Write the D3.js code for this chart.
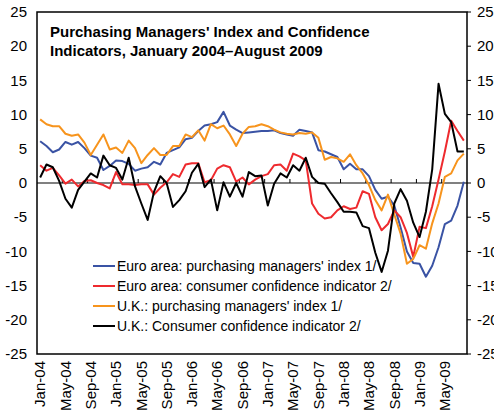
<!DOCTYPE html>
<html>
<head>
<meta charset="utf-8">
<script src="https://cdn.jsdelivr.net/npm/d3@7"></script>
<style>
    body { margin: 0; background: #fff; }
    svg { font-family: "Liberation Sans", Arial, sans-serif; }
</style>
</head>
<body>
<svg id="chart"></svg>
<script>
let months = ["Jan", "Feb", "Mar", "Apr", "May", "Jun", "Jul", "Aug", "Sep", "Oct", "Nov", "Dec"]
let years = ["04", "05", "06", "07", "08", "09"]
let dates = []
years.forEach((y) => {
    months.forEach((m) => {
        dates.push(m + "-" + y)
    })
})
dates = dates.slice(0, 68)   // Jan-04 .. Aug-09

let euroPMI = [6.1, 5.4, 4.5, 4.9, 6.0, 5.6, 6.0, 5.1, 4.0, 3.7, 1.9, 2.5,
               3.3, 3.2, 2.8, 1.8, 2.1, 2.3, 3.1, 2.7, 4.4, 4.8, 5.2, 6.4,
               6.6, 7.6, 8.4, 8.6, 8.9, 10.4, 8.4, 7.8, 7.3, 7.4, 7.5, 7.6,
               7.6, 7.7, 7.3, 7.1, 6.9, 7.8, 7.6, 7.4, 4.8, 4.6, 4.2, 3.8,
               2.0, 2.8, 2.0, 2.0, 1.0, -1.0, -2.3, -2.0, -3.3, -6.5, -10.0, -11.7,
               -11.8, -13.7, -12.1, -9.4, -6.0, -5.5, -3.3, 0.2]

let euroConsumer = [2.6, 1.8, 2.2, 1.1, -0.1, 0.5, -0.5, 0.3, 0.4, 0.0, -0.3, -0.8,
                    1.6, -0.2, -0.2, -0.3, -0.2, -0.2, -1.7, -0.7, 0.1, 1.3, 0.9, 2.7,
                    2.9, 2.9, 0.1, 0.4, 2.1, 2.6, 2.3, 0.2, 0.8, -0.2, 0.5, 1.0,
                    1.3, 2.6, 2.7, 1.8, 4.3, 3.9, 3.3, -3.0, -4.5, -5.2, -5.0, -4.0,
                    -3.4, -3.8, -3.6, -1.2, -1.6, -5.0, -6.9, -6.0, -4.0, -5.0, -7.3, -10.8,
                    -6.4, -6.6, -3.4, 0.5, 4.6, 9.1, 7.6, 6.2]

let ukPMI = [9.3, 8.6, 8.3, 8.3, 7.2, 6.9, 7.1, 5.9, 4.1, 5.6, 7.1, 4.9,
             5.2, 4.4, 6.2, 5.1, 2.9, 4.1, 5.1, 4.1, 4.1, 5.4, 5.4, 7.1,
             6.7, 7.7, 6.2, 8.6, 8.0, 8.4, 7.1, 5.4, 7.2, 8.2, 8.3, 8.6,
             8.3, 7.8, 7.4, 7.2, 7.1, 7.3, 7.2, 7.4, 6.6, 3.4, 3.8, 3.6,
             3.1, 4.2, 2.6, 1.4, -0.3, -2.5, -4.0, -1.7, -4.6, -7.4, -11.8, -11.1,
             -9.1, -9.6, -5.9, -3.0, 0.9, 1.4, 3.3, 4.3]

let ukConsumer = [0.8, 2.7, 2.3, 0.3, -2.3, -3.6, -1.0, 0.2, 1.4, 0.8, 4.0, 2.6,
                  2.2, 0.5, 3.7, -0.5, -3.0, -5.4, -1.3, 1.0, 0.0, -3.5, -2.5, -1.2,
                  1.5, 2.8, -0.6, 0.5, -4.0, 0.1, -2.0, 0.0, -2.0, 1.6, 1.0, 1.1,
                  -3.3, -0.1, 1.4, 0.8, 2.6, 1.8, 3.7, 0.9, 0.0, -0.1, -1.5, -2.8,
                  -4.2, -4.2, -4.3, -6.3, -6.6, -10.2, -13.0, -9.9, -3.0, -0.9, -2.6, -5.8,
                  -7.9, -4.2, 2.0, 14.5, 10.1, 8.9, 4.6, 4.6]

let seriesNames = ["Euro area: purchasing managers' index 1/",
                   "Euro area: consumer confidence indicator 2/",
                   "U.K.: purchasing managers' index 1/",
                   "U.K.: Consumer confidence indicator 2/"]
let seriesColors = ["#3a53a4", "#ee2a2e", "#f7941d", "#000000"]
let yTicks = [25, 20, 15, 10, 5, 0, -5, -10, -15, -20, -25]
let titleLines = ["Purchasing Managers' Index and Confidence",
                  "Indicators, January 2004\u2013August 2009"]

let width = 494
let height = 420
let plotLeft = 37, plotRight = 467, plotTop = 12, plotBottom = 354

let svg = d3.select("#chart")
svg.attr("width", width)
   .attr("height", height)

let X = d3.scaleLinear()
          .domain([-0.5, dates.length - 0.5])
          .range([plotLeft, plotRight])

let Y = d3.scaleLinear()
          .domain([-25, 25])
          .range([plotBottom, plotTop])

// left axis labels
svg.append("g")
   .selectAll("text")
   .data(yTicks)
   .enter()
   .append("text")
   .attr("x", 27)
   .attr("y", (d) => Y(d))
   .attr("dy", "0.35em")
   .attr("text-anchor", "end")
   .style("font-size", "15px")
   .text((d) => d)

// right axis labels
svg.append("g")
   .selectAll("text")
   .data(yTicks)
   .enter()
   .append("text")
   .attr("x", 477)
   .attr("y", (d) => Y(d))
   .attr("dy", "0.35em")
   .style("font-size", "15px")
   .text((d) => d)

// right axis tick marks
svg.append("g")
   .selectAll("line")
   .data(yTicks)
   .enter()
   .append("line")
   .attr("x1", plotRight)
   .attr("x2", plotRight + 4)
   .attr("y1", (d) => Y(d))
   .attr("y2", (d) => Y(d))
   .attr("stroke", "#000")
   .attr("stroke-width", 1)

// zero line with small month ticks
svg.append("line")
   .attr("x1", plotLeft)
   .attr("x2", plotRight)
   .attr("y1", Y(0))
   .attr("y2", Y(0))
   .attr("stroke", "#808080")
   .attr("stroke-width", 2)

let tickIdx = d3.range(4, dates.length, 4)
svg.append("g")
   .selectAll("line")
   .data(tickIdx)
   .enter()
   .append("line")
   .attr("x1", (d) => X(d - 0.5))
   .attr("x2", (d) => X(d - 0.5))
   .attr("y1", Y(0))
   .attr("y2", Y(0) - 4)
   .attr("stroke", "#000")
   .attr("stroke-width", 1)

// x labels, every fourth month
let labelIdx = d3.range(0, dates.length, 4)
svg.append("g")
   .selectAll("text")
   .data(labelIdx)
   .enter()
   .append("text")
   .attr("transform", (d) => "translate(" + X(d) + "," + 361 + ") rotate(-90)")
   .attr("dy", "0.35em")
   .attr("text-anchor", "end")
   .style("font-size", "15px")
   .text((d) => dates[d])

// lines
let allSeries = [euroPMI, euroConsumer, ukPMI, ukConsumer]
let line = d3.line()
             .x((d, i) => X(i))
             .y((d) => Y(d))

allSeries.forEach((s, k) => {
    svg.append("path")
       .attr("fill", "none")
       .attr("stroke", seriesColors[k])
       .attr("stroke-width", 2)
       .attr("stroke-linejoin", "round")
       .attr("d", line(s))
})

// frame
svg.append("rect")
   .attr("x", plotLeft)
   .attr("y", plotTop)
   .attr("width", plotRight - plotLeft)
   .attr("height", plotBottom - plotTop)
   .attr("fill", "none")
   .attr("stroke", "#000")
   .attr("stroke-width", 1.5)

// title
svg.append("g")
   .selectAll("text")
   .data(titleLines)
   .enter()
   .append("text")
   .attr("x", 50)
   .attr("y", (d, i) => 37 + i * 18.5)
   .style("font-size", "15px")
   .style("font-weight", "bold")
   .text((d) => d)

// legend
let legend = svg.append("g")
                .selectAll("g")
                .data(seriesNames)
                .enter()
                .append("g")
                .attr("transform", (d, i) => "translate(0," + (266 + i * 20) + ")")

legend.append("line")
      .attr("x1", 93)
      .attr("x2", 115)
      .attr("stroke", (d, i) => seriesColors[i])
      .attr("stroke-width", 2)

legend.append("text")
      .attr("x", 117)
      .attr("dy", "0.35em")
      .style("font-size", "14px")
      .text((d) => d)
</script>
</body>
</html>
